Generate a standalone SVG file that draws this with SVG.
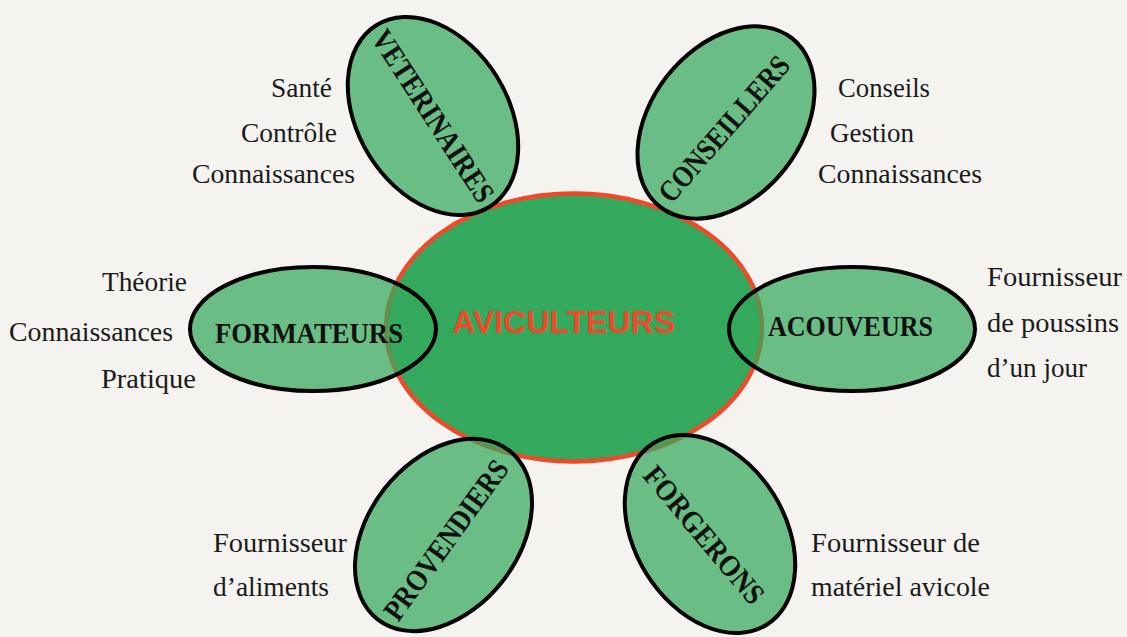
<svg xmlns="http://www.w3.org/2000/svg" width="1127" height="637" viewBox="0 0 1127 637">
<style>
.bg{fill:#f4f3ef}
.hub{fill:#34a85c;stroke:#ee4a2a;stroke-width:4.5}
.hubtxt{font-family:"Liberation Sans",Arial,sans-serif;font-weight:bold;font-size:31px;fill:#ee4a2a;text-anchor:middle}
.sat{fill:#34a85c;fill-opacity:0.72;stroke:#000;stroke-width:4}
.lbl{font-family:"Liberation Serif","Times New Roman",serif;font-weight:bold;font-size:30px;fill:#111;text-anchor:middle}
.side{font-family:"Liberation Serif","Times New Roman",serif;font-size:27px;fill:#1a1a1a}
</style>
<rect class="bg" x="0" y="0" width="1127" height="637"/>
<g id="connectors"/>
<g id="aviculteurs">
<ellipse class="hub" cx="574" cy="327.5" rx="188" ry="134"/>
<text class="hubtxt" x="563.5" y="333" textLength="223" lengthAdjust="spacingAndGlyphs">AVICULTEURS</text>
</g>
<g id="veterinaires">
<ellipse class="sat" cx="433" cy="116" rx="107" ry="75" transform="rotate(58 433 116)"/>
<text class="lbl" transform="translate(433 116) rotate(57)" x="0" y="10" textLength="199" lengthAdjust="spacingAndGlyphs">VETERINAIRES</text>
</g>
<g id="conseillers">
<ellipse class="sat" cx="726" cy="122.5" rx="107" ry="75" transform="rotate(-52 726 122.5)"/>
<text class="lbl" transform="translate(724 129) rotate(-49)" x="0" y="10" textLength="183" lengthAdjust="spacingAndGlyphs">CONSEILLERS</text>
</g>
<g id="formateurs">
<ellipse class="sat" cx="313" cy="329" rx="123" ry="62"/>
<text class="lbl" x="309" y="343" textLength="188" lengthAdjust="spacingAndGlyphs">FORMATEURS</text>
</g>
<g id="acouveurs">
<ellipse class="sat" cx="852" cy="329" rx="123" ry="62"/>
<text class="lbl" x="850.5" y="336" textLength="165" lengthAdjust="spacingAndGlyphs">ACOUVEURS</text>
</g>
<g id="provendiers">
<ellipse class="sat" cx="443.5" cy="535" rx="107" ry="75" transform="rotate(-52 443.5 535)"/>
<text class="lbl" transform="translate(446 540) rotate(-54)" x="0" y="10" textLength="190" lengthAdjust="spacingAndGlyphs">PROVENDIERS</text>
</g>
<g id="forgerons">
<ellipse class="sat" cx="710" cy="534" rx="107" ry="75" transform="rotate(58 710 534)"/>
<text class="lbl" transform="translate(704 535) rotate(50)" x="0" y="10" textLength="170" lengthAdjust="spacingAndGlyphs">FORGERONS</text>
</g>
<g id="side-texts">
<text class="side" x="271" y="97" textLength="61" lengthAdjust="spacingAndGlyphs">Santé</text>
<text class="side" x="241" y="142" textLength="96" lengthAdjust="spacingAndGlyphs">Contrôle</text>
<text class="side" x="192" y="183" textLength="163" lengthAdjust="spacingAndGlyphs">Connaissances</text>
<text class="side" x="838" y="97" textLength="92" lengthAdjust="spacingAndGlyphs">Conseils</text>
<text class="side" x="830" y="142" textLength="84" lengthAdjust="spacingAndGlyphs">Gestion</text>
<text class="side" x="818" y="183" textLength="164" lengthAdjust="spacingAndGlyphs">Connaissances</text>
<text class="side" x="102" y="291" textLength="85" lengthAdjust="spacingAndGlyphs">Théorie</text>
<text class="side" x="9" y="341" textLength="164" lengthAdjust="spacingAndGlyphs">Connaissances</text>
<text class="side" x="101" y="388" textLength="95" lengthAdjust="spacingAndGlyphs">Pratique</text>
<text class="side" x="987" y="286" textLength="135" lengthAdjust="spacingAndGlyphs">Fournisseur</text>
<text class="side" x="987" y="332" textLength="132" lengthAdjust="spacingAndGlyphs">de poussins</text>
<text class="side" x="987" y="377" textLength="100" lengthAdjust="spacingAndGlyphs">d’un jour</text>
<text class="side" x="213" y="552" textLength="134" lengthAdjust="spacingAndGlyphs">Fournisseur</text>
<text class="side" x="213" y="596" textLength="116" lengthAdjust="spacingAndGlyphs">d’aliments</text>
<text class="side" x="811" y="552" textLength="169" lengthAdjust="spacingAndGlyphs">Fournisseur de</text>
<text class="side" x="811" y="596" textLength="179" lengthAdjust="spacingAndGlyphs">matériel avicole</text>
</g>
</svg>
